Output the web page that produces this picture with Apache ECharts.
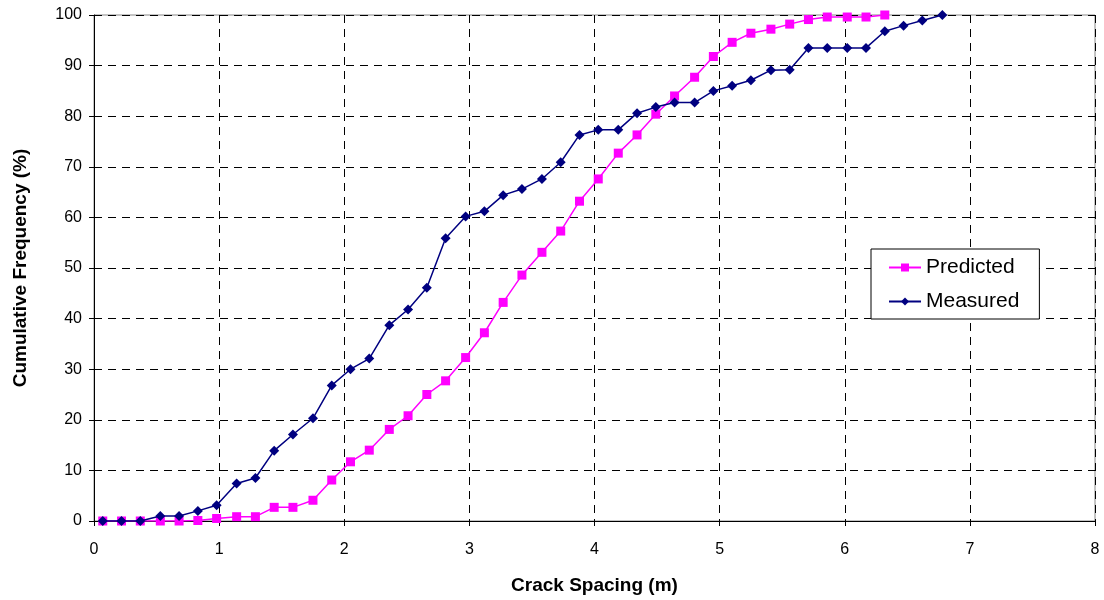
<!DOCTYPE html>
<html>
<head>
<meta charset="utf-8">
<script src="https://cdn.jsdelivr.net/npm/echarts@6/dist/echarts.min.js"></script>
<style>
html,body{margin:0;padding:0;background:#fff;overflow:hidden;}
#chart{width:1104px;height:600px;}
</style>
</head>
<body>
<div id="chart"></div>
<script>
// Crack spacing (m) for each point
const measuredX = [0.07, 0.22, 0.37, 0.53, 0.68, 0.83, 0.98, 1.14, 1.29, 1.44, 1.59, 1.75, 1.90, 2.05, 2.20, 2.36, 2.51, 2.66, 2.81, 2.97, 3.12, 3.27, 3.42, 3.58, 3.73, 3.88, 4.03, 4.19, 4.34, 4.49, 4.64, 4.80, 4.95, 5.10, 5.25, 5.41, 5.56, 5.71, 5.86, 6.02, 6.17, 6.32, 6.47, 6.62, 6.78];
const measuredY = [0, 0, 0, 1.0, 1.0, 2.0, 3.1, 7.4, 8.5, 13.9, 17.1, 20.3, 26.8, 30.0, 32.1, 38.7, 41.8, 46.1, 55.9, 60.2, 61.2, 64.4, 65.6, 67.6, 70.9, 76.3, 77.3, 77.3, 80.6, 81.8, 82.7, 82.7, 85.0, 86.0, 87.1, 89.1, 89.2, 93.5, 93.5, 93.5, 93.5, 96.8, 97.9, 98.9, 100];
const predictedX = [0.07, 0.22, 0.37, 0.53, 0.68, 0.83, 0.98, 1.14, 1.29, 1.44, 1.59, 1.75, 1.90, 2.05, 2.20, 2.36, 2.51, 2.66, 2.81, 2.97, 3.12, 3.27, 3.42, 3.58, 3.73, 3.88, 4.03, 4.19, 4.34, 4.49, 4.64, 4.80, 4.95, 5.10, 5.25, 5.41, 5.56, 5.71, 5.86, 6.02, 6.17, 6.32];
const predictedY = [0, 0, 0, 0, 0, 0.1, 0.5, 0.85, 0.85, 2.7, 2.7, 4.1, 8.1, 11.7, 14.0, 18.1, 20.8, 25.0, 27.7, 32.3, 37.2, 43.2, 48.6, 53.1, 57.3, 63.2, 67.6, 72.7, 76.3, 80.4, 84.0, 87.7, 91.8, 94.6, 96.4, 97.2, 98.2, 99.1, 99.6, 99.6, 99.6, 100];
const xTitle = 'Crack Spacing (m)';
const yTitle = 'Cumulative Frequency (%)';

const FONT = '"Liberation Sans", Arial, sans-serif';
const chart = echarts.init(document.getElementById('chart'), null, {renderer: 'canvas'});
const pair = (xs, ys) => xs.map((x, i) => [x, ys[i]]);

chart.setOption({
  animation: false,
  backgroundColor: '#ffffff',
  textStyle: {fontFamily: FONT},
  grid: {left: 94, right: 9, top: 15, bottom: 70, show: true, borderColor: '#888888', borderWidth: 1, backgroundColor: 'transparent'},
  legend: {
    orient: 'vertical',
    left: 871, top: 249,
    padding: [8, 20, 7, 17],
    itemGap: 13,
    itemWidth: 32, itemHeight: 10,
    backgroundColor: '#ffffff',
    borderColor: '#000000', borderWidth: 1, borderRadius: 0,
    textStyle: {fontFamily: FONT, fontSize: 21, color: '#000'},
    data: ['Predicted', 'Measured']
  },
  xAxis: {
    type: 'value', min: 0, max: 8, interval: 1,
    name: xTitle, nameLocation: 'middle', nameGap: 55,
    nameTextStyle: {fontFamily: FONT, fontSize: 19, fontWeight: 'bold', color: '#000'},
    axisLine: {show: true, onZero: false, lineStyle: {color: '#000', width: 1}},
    axisTick: {show: true, inside: false, length: 5, lineStyle: {color: '#000'}},
    axisLabel: {fontFamily: FONT, fontSize: 16, color: '#000', margin: 21},
    splitLine: {show: true, lineStyle: {color: '#000', type: [8, 6], width: 1}}
  },
  yAxis: {
    type: 'value', min: 0, max: 100, interval: 10,
    name: yTitle, nameLocation: 'middle', nameGap: 64,
    nameTextStyle: {fontFamily: FONT, fontSize: 19, fontWeight: 'bold', color: '#000'},
    axisLine: {show: true, lineStyle: {color: '#000', width: 1}},
    axisTick: {show: true, inside: false, length: 5, lineStyle: {color: '#000'}},
    axisLabel: {fontFamily: FONT, fontSize: 16, color: '#000', margin: 12},
    splitLine: {show: true, lineStyle: {color: '#000', type: [8, 6], width: 1}}
  },
  series: [
    {
      name: 'Predicted', type: 'line',
      data: pair(predictedX, predictedY),
      symbol: 'rect', symbolSize: 9,
      lineStyle: {color: '#FF00FF', width: 1.5},
      itemStyle: {color: '#FF00FF'},
      z: 2
    },
    {
      name: 'Measured', type: 'line',
      data: pair(measuredX, measuredY),
      symbol: 'diamond', symbolSize: 10,
      lineStyle: {color: '#000080', width: 1.5},
      itemStyle: {color: '#000080'},
      z: 3
    }
  ]
});
</script>
</body>
</html>
